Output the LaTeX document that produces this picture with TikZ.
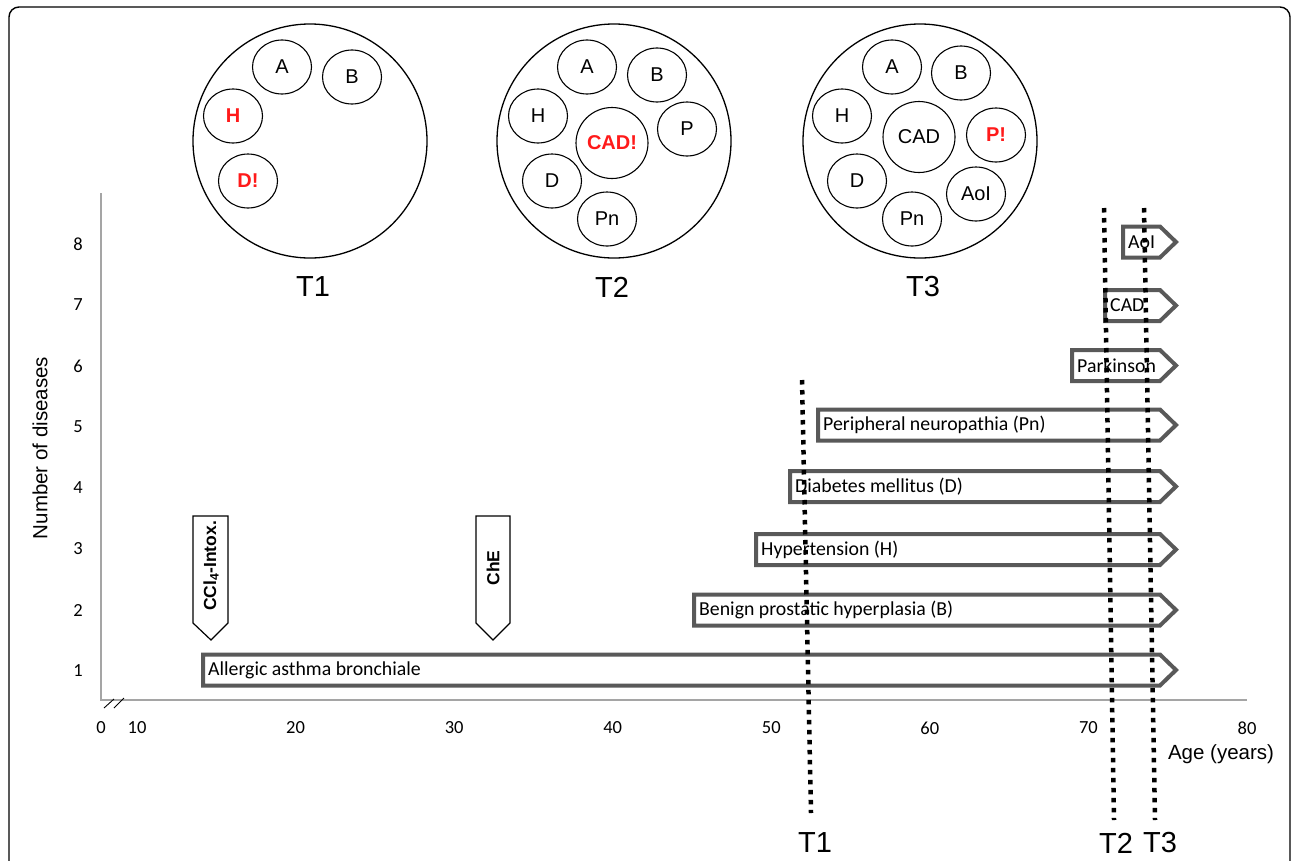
\documentclass[tikz,border=0pt]{standalone}
\usepackage{fontspec}
\setmainfont{Liberation Sans}
\newfontfamily\calibrifont{Carlito}
\usetikzlibrary{positioning,shapes.geometric}
\definecolor{barline}{HTML}{595959}
\definecolor{axisline}{HTML}{A5A5A5}
\definecolor{newdis}{HTML}{FF1A1A}
\tikzset{
  outerframe/.style = {draw=black, line width=1.4pt, rounded corners=10pt},
  pool/.style     = {circle, draw=black, line width=1.3pt, minimum size=234pt, inner sep=0pt},
  dis/.style      = {ellipse, draw=black, line width=1.1pt, minimum width=59pt, minimum height=54pt,
                     inner sep=0pt, font=\fontsize{20}{24}\selectfont},
  bigdis/.style   = {dis, minimum width=72pt, minimum height=71pt},
  hot/.style      = {text=newdis, font=\fontsize{20}{24}\selectfont\bfseries},
  tlbl/.style     = {font=\fontsize{29}{34}\selectfont, inner sep=0pt},
  axisln/.style   = {draw=axisline, line width=2pt},
  ticklbl/.style  = {font=\calibrifont\fontsize{18.5}{22}\selectfont, inner sep=0pt},
  atitle/.style   = {font=\fontsize{20.5}{24}\selectfont, inner sep=0pt},
  dbar/.style     = {draw=barline, fill=white, line width=4pt, line join=miter},
  bartxt/.style   = {font=\calibrifont\fontsize{19.8}{23}\selectfont, inner sep=0pt, anchor=west},
  event/.style    = {draw=black, fill=white, line width=1.2pt},
  evtxt/.style    = {font=\fontsize{17.5}{20}\selectfont\bfseries, rotate=90, inner sep=0pt},
  tline/.style    = {draw=black, line width=4.5pt, dash pattern=on 4.5pt off 5.5pt},
}

\begin{document}
\begin{tikzpicture}[x=1pt,y=-1pt]
  \useasboundingbox (0,0) rectangle (1292,860);
  \clip (0,0) rectangle (1292,860);
  \draw[outerframe] (9,7) rectangle (1290,920);

  % disease sets at T1
  \node[pool] (s1) at (310,141) {};
  \node[dis] (s1a) at (282,67) {A};
  \node[dis] (s1b) at (352,77) {B};
  \node[dis, hot] (s1h) at (233,116) {H};
  \node[dis, hot] (s1d) at (248,181) {D!};
  \node[tlbl] (s1lbl) at (313,287) {T1};

  % disease sets at T2
  \node[pool] (s2) at (614,141) {};
  \node[dis] (s2a) at (587,67) {A};
  \node[dis] (s2b) at (657,75) {B};
  \node[dis] (s2h) at (538,116) {H};
  \node[bigdis, hot] (s2c) at (612,143) {CAD!};
  \node[dis] (s2p) at (687,129) {P};
  \node[dis] (s2d) at (552,181) {D};
  \node[dis] (s2pn) at (607,219) {Pn};
  \node[tlbl] (s2lbl) at (612,287) {T2};

  % disease sets at T3
  \node[pool] (s3) at (920,141) {};
  \node[dis] (s3a) at (892,67) {A};
  \node[dis] (s3b) at (961,73) {B};
  \node[dis] (s3h) at (842,116) {H};
  \node[bigdis] (s3c) at (919,137) {CAD};
  \node[dis, hot] (s3p) at (996,135) {P!};
  \node[dis] (s3d) at (857,181) {D};
  \node[dis] (s3aoi) at (976,194) {AoI};
  \node[dis] (s3pn) at (912,219) {Pn};
  \node[tlbl] (s3lbl) at (923,287) {T3};

  % axes
  \coordinate (ytop) at (101,193);
  \coordinate (orig) at (101,700);
  \coordinate (xend) at (1247,700);
  \draw[axisln] (ytop) -- (orig) -- (xend);
  \draw[line width=0.9pt] (104,708) -- (114,699) (114,708) -- (124,698);
  \node[ticklbl] (x0) at (101,728) {0};
  \foreach \a [count=\i from 0] in {10,20,...,80}
    \node[ticklbl] (x\a) at ({137+\i*158.57},728) {\a};
  \foreach \n in {1,...,8}
    \node[ticklbl] (y\n) at (78,{671-(\n-1)*61}) {\n};
  \node[atitle] (xtitle) at (1221,754) {Age (years)};
  \node[atitle, rotate=90] (ytitle) at (40,448) {Number of diseases};

  % disease bars
  \foreach \nm/\l/\y/\txt in {asth/203/670/Allergic asthma bronchiale,
      bph/694/610/Benign prostatic hyperplasia (B),
      hyp/756/549.5/Hypertension (H),
      dm/790/486.5/Diabetes mellitus (D),
      pn/818/425/Peripheral neuropathia (Pn),
      park/1072/365.5/Parkinson,
      cad/1105/305.5/CAD,
      aoi/1123/242/AoI} {
    \draw[dbar] (\l,\y-15.5) -- (1160,\y-15.5) -- (1176,\y) -- (1160,\y+15.5) -- (\l,\y+15.5) -- cycle;
    \node[bartxt] (\nm) at (\l+5,\y) {\txt};
  }

  % events
  \draw[event] (193,516) -- (228,516) -- (228,623) -- (211,640) -- (193,623) -- cycle;
  \node[evtxt] (ccl) at (211,566) {CCl\textsubscript{4}-Intox.};
  \draw[event] (476,516) -- (510,516) -- (510,623) -- (493,640) -- (476,623) -- cycle;
  \node[evtxt] (che) at (493,568) {ChE};

  % time points
  \coordinate (t1top) at (802,380);  \coordinate (t1bot) at (811,813);
  \coordinate (t2top) at (1104,208); \coordinate (t2bot) at (1114,820);
  \coordinate (t3top) at (1144,208); \coordinate (t3bot) at (1155,820);
  \draw[tline] (t1top) -- (t1bot);
  \draw[tline] (t2top) -- (t2bot);
  \draw[tline] (t3top) -- (t3bot);
  \node[tlbl] (t1) at (815,843) {T1};
  \node[tlbl] (t2) at (1116,843) {T2};
  \node[tlbl] (t3) at (1160,843) {T3};
\end{tikzpicture}
\end{document}
